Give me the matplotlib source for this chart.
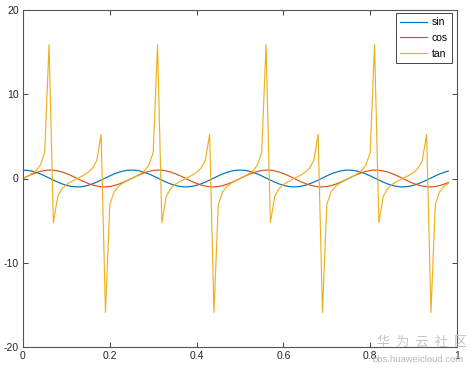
import numpy as np
import matplotlib
matplotlib.use("Agg")
import matplotlib.pyplot as plt

# sample points (step 0.01, last sample at 0.98)
x = np.linspace(0, 0.98, 99)

# blue line (legend "sin")
y_sin = [1.00, 0.97, 0.88, 0.73, 0.54, 0.31, 0.06, -0.19, -0.43, -0.64, -0.81, -0.93, -0.99,
         -0.99, -0.93, -0.81, -0.64, -0.43, -0.19, 0.06, 0.31, 0.54, 0.73, 0.88, 0.97,
         1.00, 0.97, 0.88, 0.73, 0.54, 0.31, 0.06, -0.19, -0.43, -0.64, -0.81, -0.93, -0.99,
         -0.99, -0.93, -0.81, -0.64, -0.43, -0.19, 0.06, 0.31, 0.54, 0.73, 0.88, 0.97,
         1.00, 0.97, 0.88, 0.73, 0.54, 0.31, 0.06, -0.19, -0.43, -0.64, -0.81, -0.93, -0.99,
         -0.99, -0.93, -0.81, -0.64, -0.43, -0.19, 0.06, 0.31, 0.54, 0.73, 0.88, 0.97,
         1.00, 0.97, 0.88, 0.73, 0.54, 0.31, 0.06, -0.19, -0.43, -0.64, -0.81, -0.93, -0.99,
         -0.99, -0.93, -0.81, -0.64, -0.43, -0.19, 0.06, 0.31, 0.54, 0.73, 0.88]

# red line (legend "cos")
y_cos = [0.00, 0.25, 0.48, 0.68, 0.84, 0.95, 1.00, 0.98, 0.90, 0.77, 0.59, 0.37, 0.13,
         -0.13, -0.37, -0.59, -0.77, -0.90, -0.98, -1.00, -0.95, -0.84, -0.68, -0.48, -0.25,
         0.00, 0.25, 0.48, 0.68, 0.84, 0.95, 1.00, 0.98, 0.90, 0.77, 0.59, 0.37, 0.13,
         -0.13, -0.37, -0.59, -0.77, -0.90, -0.98, -1.00, -0.95, -0.84, -0.68, -0.48, -0.25,
         0.00, 0.25, 0.48, 0.68, 0.84, 0.95, 1.00, 0.98, 0.90, 0.77, 0.59, 0.37, 0.13,
         -0.13, -0.37, -0.59, -0.77, -0.90, -0.98, -1.00, -0.95, -0.84, -0.68, -0.48, -0.25,
         0.00, 0.25, 0.48, 0.68, 0.84, 0.95, 1.00, 0.98, 0.90, 0.77, 0.59, 0.37, 0.13,
         -0.13, -0.37, -0.59, -0.77, -0.90, -0.98, -1.00, -0.95, -0.84, -0.68, -0.48]

# yellow line (legend "tan")
y_tan = [0.00, 0.26, 0.55, 0.94, 1.58, 3.08, 15.89, -5.24, -2.13, -1.21, -0.73, -0.40, -0.13,
         0.13, 0.40, 0.73, 1.21, 2.13, 5.24, -15.89, -3.08, -1.58, -0.94, -0.55, -0.26,
         0.00, 0.26, 0.55, 0.94, 1.58, 3.08, 15.89, -5.24, -2.13, -1.21, -0.73, -0.40, -0.13,
         0.13, 0.40, 0.73, 1.21, 2.13, 5.24, -15.89, -3.08, -1.58, -0.94, -0.55, -0.26,
         0.00, 0.26, 0.55, 0.94, 1.58, 3.08, 15.89, -5.24, -2.13, -1.21, -0.73, -0.40, -0.13,
         0.13, 0.40, 0.73, 1.21, 2.13, 5.24, -15.89, -3.08, -1.58, -0.94, -0.55, -0.26,
         0.00, 0.26, 0.55, 0.94, 1.58, 3.08, 15.89, -5.24, -2.13, -1.21, -0.73, -0.40, -0.13,
         0.13, 0.40, 0.73, 1.21, 2.13, 5.24, -15.89, -3.08, -1.58, -0.94, -0.55]

labels = ["sin", "cos", "tan"]
colors = ["#0072BD", "#D95319", "#EDB120"]

x_ticks = [0, 0.2, 0.4, 0.6, 0.8, 1]
x_ticklabels = ["0", "0.2", "0.4", "0.6", "0.8", "1"]
y_ticks = [-20, -10, 0, 10, 20]

plt.rcParams['font.family'] = ['Liberation Sans', 'DejaVu Sans']
plt.rcParams['axes.unicode_minus'] = False

fig = plt.figure(figsize=(4.75, 3.72), dpi=100)
ax = fig.add_axes([23 / 475, 25 / 372, 434 / 475, 337 / 372])

for y, lab, c in zip([y_sin, y_cos, y_tan], labels, colors):
    ax.plot(x, y, color=c, lw=0.85, label=lab)

ax.set_xlim(0, 1)
ax.set_ylim(-20, 20)
ax.set_xticks(x_ticks)
ax.set_xticklabels(x_ticklabels)
ax.set_yticks(y_ticks)
ax.tick_params(direction='in', top=True, right=True, length=3.5, width=0.6,
               labelsize=7.5, colors='#262626', pad=3)
for s in ax.spines.values():
    s.set_color('#555555')
    s.set_linewidth(0.8)

leg = ax.legend(loc='upper right', bbox_to_anchor=(0.988, 0.991), fontsize=7.5,
                fancybox=False, edgecolor='#262626', framealpha=1,
                handlelength=2.6, handletextpad=0.4, labelspacing=0.55,
                borderpad=0.4, borderaxespad=0)
leg.get_frame().set_linewidth(0.6)

# watermark
fig.text(422 / 475, 1 - 342 / 372, "华  为  云  社  区", ha='center', va='center',
         fontsize=9.5, color='#c4c4c4', family=['Noto Sans CJK SC', 'DejaVu Sans'])
fig.text(418 / 475, 1 - 359 / 372, "bbs.huaweicloud.com", ha='center', va='center',
         fontsize=6.8, color='#b8b8b8')

fig.savefig("out.png", dpi=100)
